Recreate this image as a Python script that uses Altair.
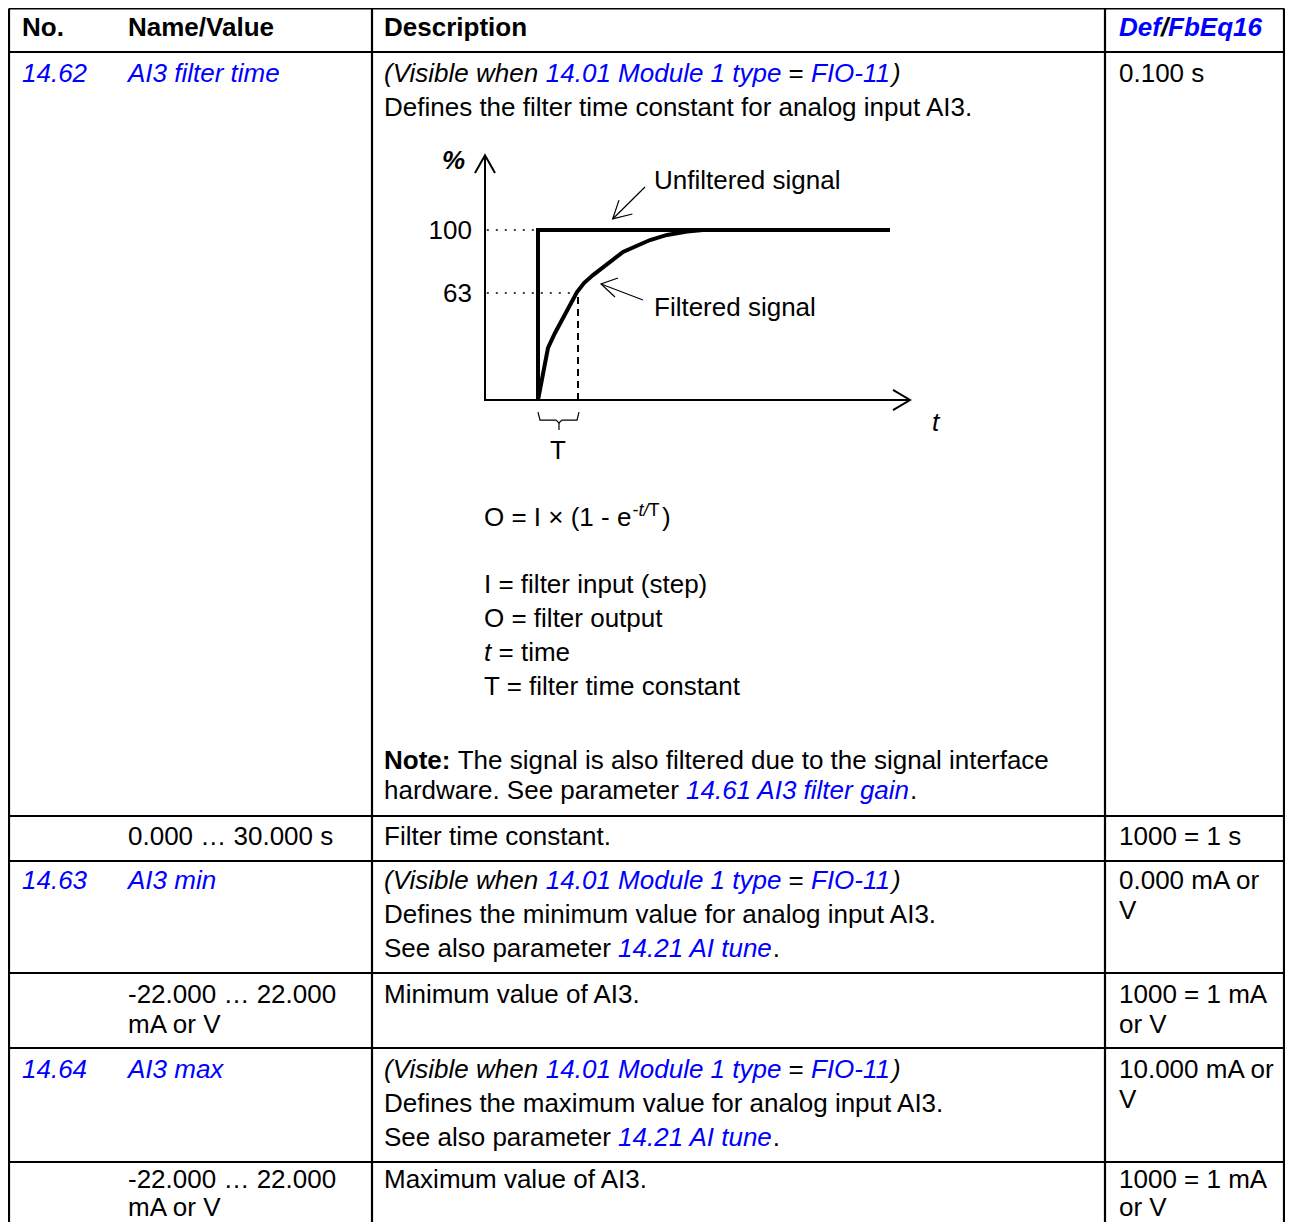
import altair as alt
import pandas as pd

FONT = "Liberation Sans"
BLUE = "#0000ff"
BLACK = "#000000"

# ---------------- data (texts and values) ----------------
header = ["No.", "Name/Value", "Description"]
header_def = ["Def", "/", "FbEq16"]
par_no = ["14.62", "14.63", "14.64"]
par_name = ["AI3 filter time", "AI3 min", "AI3 max"]
par_default = [["0.100 s"], ["0.000 mA or", "V"], ["10.000 mA or", "V"]]
visible_when = ["(Visible when", "14.01 Module 1 type", "=", "FIO-11", ")"]
par_desc = ["Defines the filter time constant for analog input AI3.",
            "Defines the minimum value for analog input AI3.",
            "Defines the maximum value for analog input AI3."]
see_also = ["See also parameter", "14.21 AI tune", "."]
note = ["Note:", "The signal is also filtered due to the signal interface",
        "hardware. See parameter", "14.61 AI3 filter gain", "."]
range_name = [["0.000 … 30.000 s"], ["-22.000 … 22.000", "mA or V"], ["-22.000 … 22.000", "mA or V"]]
range_desc = ["Filter time constant.", "Minimum value of AI3.", "Maximum value of AI3."]
range_scale = [["1000 = 1 s"], ["1000 = 1 mA", "or V"], ["1000 = 1 mA", "or V"]]

formula_main = ["O = I × (1 - e", ")"]
formula_sup = ["-", "t/", "T"]
legend_lines = ["I = filter input (step)", "O = filter output", "= time", "T = filter time constant"]
legend_t = "t"
diag_labels = ["%", "Unfiltered signal", "Filtered signal", "t", "T"]
pct_ticks = [100, 63]

# step response, time in units of T, output in %
unfiltered_t = [0, 0, 8.8]
unfiltered_pct = [0, 100, 100]
filtered_t = [0, 0.25, 0.425, 0.975, 1.15, 1.375, 2.125, 2.8, 3.225, 3.725, 4.125]
filtered_pct = [0, 30.6, 39.4, 63.5, 68.8, 73.5, 87.1, 94.1, 97.1, 99.1, 100]

# ---------------- layout (reference pixel positions) ----------------
C1, C2, C3, C4 = 22, 128, 384, 1119
HEADER_Y = 36
PARAM_Y = [82, 889, 1078]
PARAM_DY = 34
WRAP_DY = [30, 30, 28]
RANGE_Y = [845, 1003, 1188]
NOTE_Y = [769, 799]
VIS_DX = [0, 161.8, 404.6, 427.0, 507.9]
SEE_DX = [0, 234.1, 388.8]
NOTE_DX = [0, 73.7, 0, 302.0, 526.0]
DEF_DX = [0, 41.9, 49.1]

H_LINES = [8.5, 52, 816, 861, 973, 1048, 1162]
V_LINES = [9, 372, 1105, 1284]
TABLE_L, TABLE_R, TABLE_T, TABLE_B = 9, 1284, 8.5, 1222

segs = []


def add(text, x, y, style="normal", color=BLACK, size=26):
    segs.append(dict(text=text, x=x, y=y, style=style, color=color, size=size))


# header
for t, cx in zip(header, [C1, C2, C3]):
    add(t, cx, HEADER_Y, "bold")
for t, dx, col in zip(header_def, DEF_DX, [BLUE, BLACK, BLUE]):
    add(t, C4 + dx, HEADER_Y, "bolditalic", col)

vis_style = ["italic", "italic", "normal", "italic", "italic"]
vis_col = [BLACK, BLUE, BLACK, BLUE, BLACK]
for i in range(3):
    y = PARAM_Y[i]
    add(par_no[i], C1, y, "italic", BLUE)
    add(par_name[i], C2, y, "italic", BLUE)
    for t, dx, st, col in zip(visible_when, VIS_DX, vis_style, vis_col):
        add(t, C3 + dx, y, st, col)
    add(par_desc[i], C3, y + PARAM_DY)
    if i > 0:
        for t, dx, st, col in zip(see_also, SEE_DX, ["normal", "italic", "normal"], [BLACK, BLUE, BLACK]):
            add(t, C3 + dx, y + 2 * PARAM_DY, st, col)
    for k, t in enumerate(par_default[i]):
        add(t, C4, y + k * 30)
    ry = RANGE_Y[i]
    for k, t in enumerate(range_name[i]):
        add(t, C2, ry + k * WRAP_DY[i])
    add(range_desc[i], C3, ry)
    for k, t in enumerate(range_scale[i]):
        add(t, C4, ry + k * WRAP_DY[i])

# note
add(note[0], C3, NOTE_Y[0], "bold")
add(note[1], C3 + NOTE_DX[1], NOTE_Y[0])
add(note[2], C3, NOTE_Y[1])
add(note[3], C3 + NOTE_DX[3], NOTE_Y[1], "italic", BLUE)
add(note[4], C3 + NOTE_DX[4], NOTE_Y[1])

# formula and legend
add(formula_main[0], 484, 526)
add(formula_sup[0], 632.5, 516, "normal", BLACK, 18)
add(formula_sup[1], 638.5, 516, "italic", BLACK, 18)
add(formula_sup[2], 648.5, 516, "normal", BLACK, 18)
add(formula_main[1], 662, 526)
add(legend_lines[0], 484, 593)
add(legend_lines[1], 484, 627)
add(legend_t, 484, 661, "italic")
add(legend_lines[2], 498.5, 661)
add(legend_lines[3], 484, 695)

# diagram labels
add(diag_labels[0], 442, 169, "bolditalic")
add(diag_labels[1], 654, 189)
add(diag_labels[2], 654, 316)
add(diag_labels[3], 932, 431, "italic")
add(diag_labels[4], 550, 459)

text_df = pd.DataFrame(segs)

XS = alt.Scale(domain=[8, 1285], range=[0, 1277], nice=False, zero=False)
YS = alt.Scale(domain=[8, 1222], range=[0, 1214], nice=False, zero=False)
# diagram scales: t in units of T, output in %
XD = alt.Scale(domain=[0, 1], range=[530, 570], nice=False, zero=False)
YD = alt.Scale(domain=[0, 100], range=[392, 222], nice=False, zero=False)


def text_layer(style):
    df = text_df[text_df["style"] == style]
    kw = dict(font=FONT, align="left", baseline="alphabetic")
    if style in ("italic", "bolditalic"):
        kw["fontStyle"] = "italic"
    if style in ("bold", "bolditalic"):
        kw["fontWeight"] = "bold"
    return alt.Chart(df).mark_text(**kw).encode(
        x=alt.X("x:Q", scale=XS, axis=None),
        y=alt.Y("y:Q", scale=YS, axis=None),
        text="text:N",
        color=alt.Color("color:N", scale=None),
        size=alt.Size("size:Q", scale=None),
    )


# table grid
rules = []
for y in H_LINES:
    rules.append(dict(x=TABLE_L, x2=TABLE_R, y=y, y2=y))
for x in V_LINES:
    rules.append(dict(x=x, x2=x, y=TABLE_T, y2=TABLE_B))
grid = alt.Chart(pd.DataFrame(rules)).mark_rule(color=BLACK, strokeWidth=2.2).encode(
    x=alt.X("x:Q", scale=XS, axis=None), x2="x2:Q",
    y=alt.Y("y:Q", scale=YS, axis=None), y2="y2:Q",
)


def path_df(paths):
    rows = []
    for s, pts in enumerate(paths):
        for o, (t, p) in enumerate(pts):
            rows.append(dict(t=t, pct=p, seg=s, o=o))
    return pd.DataFrame(rows)


def line_layer(paths, **kw):
    return alt.Chart(path_df(paths)).mark_line(color=BLACK, **kw).encode(
        x=alt.X("t:Q", scale=XD, axis=None),
        y=alt.Y("pct:Q", scale=YD, axis=None),
        detail="seg:N",
        order="o:Q",
    )


signals = line_layer([list(zip(unfiltered_t, unfiltered_pct)),
                      list(zip(filtered_t, filtered_pct))],
                     strokeWidth=4, strokeJoin="miter", strokeCap="butt")
axes = line_layer([[(-1.325, 144), (-1.325, 0), (9.3, 0)],
                   [(-1.575, 133.5), (-1.325, 144), (-1.075, 133.5)],
                   [(8.875, 6), (9.3, 0), (8.875, -6)]],
                  strokeWidth=2)
dotted = line_layer([[(-1.28, 100), (0, 100)], [(-1.28, 63), (1, 63)]],
                    strokeWidth=1.5, strokeDash=[2, 7])
dashed = line_layer([[(1, 0), (1, 63)]], strokeWidth=2, strokeDash=[7, 5])
thin = line_layer([[(0, -7.1), (0.05, -11.8), (0.45, -11.8), (0.525, -13.5), (0.6, -11.8),
                    (0.975, -11.8), (1.025, -7.1)],
                   [(0.525, -13.5), (0.525, -17.6)],
                   [(2.675, 125.3), (1.867, 106.5)],
                   [(2.025, 117.6), (1.867, 106.5), (2.36, 109.4)],
                   [(2.625, 58.8), (1.575, 68.2)],
                   [(2.0, 71.8), (1.575, 68.2), (1.925, 60.6)]],
                  strokeWidth=1.2)

ticks_df = pd.DataFrame(dict(pct=pct_ticks, label=[str(v) for v in pct_ticks], t=[-1.65] * 2))
tick_labels = alt.Chart(ticks_df).mark_text(font=FONT, fontSize=26, align="right",
                                            baseline="alphabetic", dy=9).encode(
    x=alt.X("t:Q", scale=XD, axis=None),
    y=alt.Y("pct:Q", scale=YD, axis=None),
    text="label:N",
)

layers = [grid, axes, dotted, dashed, thin, signals, tick_labels] + \
    [text_layer(s) for s in ["normal", "italic", "bold", "bolditalic"]]

chart = alt.layer(*layers).resolve_scale(x="independent", y="independent").properties(
    width=1277, height=1214, padding=0,
    autosize=alt.AutoSizeParams(type="none"),
).configure_view(stroke=None)

chart.save("out.html", embed_options={"renderer": "svg", "actions": False})
